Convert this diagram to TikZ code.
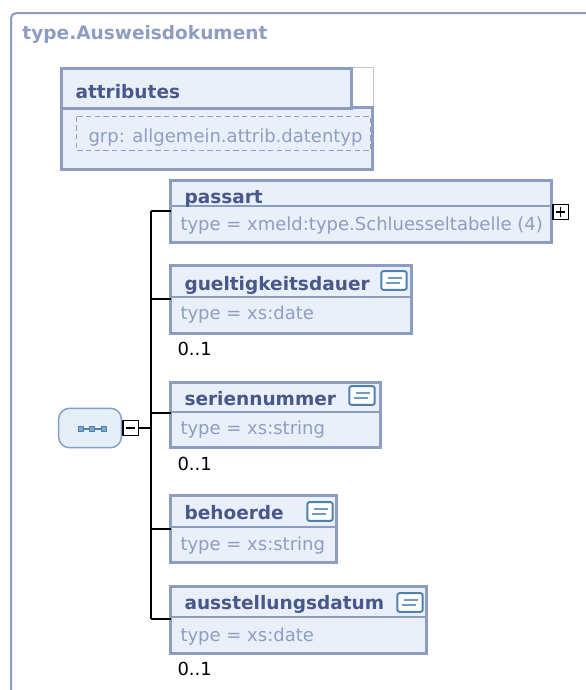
\documentclass[tikz,border=0pt]{standalone}
\usepackage{fontspec}
\setmainfont{DejaVu Sans}
\definecolor{boxline}{RGB}{141,157,193}
\definecolor{boxfill}{RGB}{234,240,250}
\definecolor{namecol}{RGB}{72,88,138}
\definecolor{typecol}{RGB}{142,158,194}
\definecolor{seqline}{RGB}{128,162,200}
\definecolor{seqfill}{RGB}{230,238,248}
\definecolor{iconblue}{RGB}{78,128,178}

\tikzset{every picture/.style={line width=0.75pt},
  frame/.style={draw=boxline, line width=1.5pt, rounded corners=4pt},
  elbox/.style 2 args={draw=boxline, fill=boxfill, line width=2.25pt, inner sep=0pt, outer sep=0pt, anchor=north west, minimum width=#1*0.75pt, minimum height=#2*0.75pt},
  divider/.style={draw=boxline, line width=1.1pt},
  namelbl/.style={anchor=base west, inner sep=0pt, text=namecol, font=\fontsize{13.9}{16}\selectfont\bfseries},
  typelbl/.style={anchor=base west, inner sep=0pt, text=typecol, font=\fontsize{13.5}{16}\selectfont},
  occ/.style={anchor=base west, inner sep=0pt, font=\fontsize{13.5}{16}\selectfont},
  conn/.style={draw=black, line width=1.5pt},
  toggle/.style={draw=black, fill=white, line width=1.2pt, inner sep=0pt, outer sep=0pt, minimum size=11.5pt},
  docicon/.style={draw=iconblue, fill=white, line width=1.4pt, rounded corners=1.5pt, inner sep=0pt, outer sep=0pt, minimum width=19pt, minimum height=14pt,
    path picture={\draw[iconblue!80, line width=1.4pt] ([xshift=-4.5pt,yshift=1.7pt]path picture bounding box.center) -- ([xshift=6pt,yshift=1.7pt]path picture bounding box.center);
      \draw[iconblue!80, line width=1.4pt] ([xshift=-6pt,yshift=-1.7pt]path picture bounding box.center) -- ([xshift=4.5pt,yshift=-1.7pt]path picture bounding box.center);}},
  seqdot/.style={draw=iconblue, fill=iconblue!70, line width=0.6pt, inner sep=0pt, outer sep=0pt, minimum size=3.8pt}
}

\begin{document}
\begin{tikzpicture}[x=0.75pt,y=0.75pt,yscale=-1,xscale=1]
\useasboundingbox (0,0) rectangle (586,690);

%Frame
\draw[frame] (586,13) -- (11,13) -- (11,690);
\node[anchor=base west, inner sep=0pt, text=typecol, font=\fontsize{13.9}{16}\selectfont\bfseries] (title) at (22,39) {type.Ausweisdokument};

%attributes
\draw[draw=boxline!60, fill=white, line width=0.75pt] (352,67.5) rectangle (373.5,108);
\node[elbox={311}{62}] (attrbody) at (61.5,107.5) {};
\node[elbox={290}{40}] (attrhead) at (61.5,68.5) {};
\node[namelbl] (attrname) at (75,98) {attributes};
\draw[draw=typecol, line width=1.1pt, dash pattern=on 4pt off 2.5pt] (76.5,116.5) rectangle (370.5,150.5);
\node[typelbl] (attrgrp) at (88,142) {grp: allgemein.attrib.datentyp};

%passart
\node[elbox={381}{62}] (passart) at (170.5,180.5) {};
\draw[divider] (170.5,206) -- (551.5,206);
\node[namelbl] (passartname) at (184,203) {passart};
\node[typelbl] (passarttype) at (180,230) {type = xmeld:type.Schluesseltabelle (4)};
\node[toggle, anchor=west] (plus) at (553,212) {};
\draw[line width=1.2pt] ([xshift=-3.4pt]plus.center) -- ([xshift=3.4pt]plus.center) ([yshift=-3.4pt]plus.center) -- ([yshift=3.4pt]plus.center);

%gueltigkeitsdauer
\node[elbox={241}{68}] (gueltig) at (170.5,265.5) {};
\draw[divider] (170.5,297) -- (411.5,297);
\node[namelbl] (gueltigname) at (184,290) {gueltigkeitsdauer};
\node[docicon] (gueltigdoc) at (394,280.5) {};
\node[typelbl] (gueltigtype) at (180,319) {type = xs:date};
\node[occ] (gueltigocc) at (177,355) {0..1};

%seriennummer
\node[elbox={210}{65}] (serien) at (170.5,382.5) {};
\draw[divider] (170.5,412) -- (380.5,412);
\node[namelbl] (serienname) at (184,405) {seriennummer};
\node[docicon] (seriendoc) at (362,395.5) {};
\node[typelbl] (serientype) at (180,434) {type = xs:string};
\node[occ] (serienocc) at (177,470) {0..1};

%behoerde
\node[elbox={166}{67}] (behoerde) at (170.5,495.5) {};
\draw[divider] (170.5,527) -- (336.5,527);
\node[namelbl] (behoerdename) at (184,519) {behoerde};
\node[docicon] (behoerdedoc) at (320,511.5) {};
\node[typelbl] (behoerdetype) at (180,550) {type = xs:string};

%ausstellungsdatum
\node[elbox={256}{67}] (ausst) at (170.5,586.5) {};
\draw[divider] (170.5,617) -- (426.5,617);
\node[namelbl] (ausstname) at (184,609) {ausstellungsdatum};
\node[docicon] (ausstdoc) at (410,602.5) {};
\node[typelbl] (assttype) at (180,641) {type = xs:date};
\node[occ] (ausstocc) at (177,675) {0..1};

%sequence
\node[draw=seqline, fill=seqfill, line width=1.1pt, rounded corners=8pt, inner sep=0pt, outer sep=0pt, minimum width=47pt, minimum height=29.5pt] (seq) at (90,428) {};
\node[seqdot] (dot1) at (80.5,429) {};
\node[seqdot] (dot2) at (92,429) {};
\node[seqdot] (dot3) at (103.5,429) {};
\draw[iconblue, line width=0.8pt] (dot1) -- (dot2) (dot2) -- (dot3);
\node[toggle, anchor=west] (minus) at (123,428) {};
\draw[line width=1.2pt] ([xshift=-3.4pt]minus.center) -- ([xshift=3.4pt]minus.center);

%Connectors
\coordinate (spine) at (151,428);
\coordinate (passartin) at (170.5,211);
\coordinate (gueltigin) at (170.5,299);
\coordinate (serienin) at (170.5,413);
\coordinate (behoerdein) at (170.5,529);
\coordinate (ausstin) at (170.5,619);
\draw[conn] (minus.east) -- (spine);
\draw[conn] (passartin -| spine) -- (ausstin -| spine);
\draw[conn] (passartin -| spine) -- (passartin);
\draw[conn] (gueltigin -| spine) -- (gueltigin);
\draw[conn] (serienin -| spine) -- (serienin);
\draw[conn] (behoerdein -| spine) -- (behoerdein);
\draw[conn] (ausstin -| spine) -- (ausstin);

\end{tikzpicture}
\end{document}
